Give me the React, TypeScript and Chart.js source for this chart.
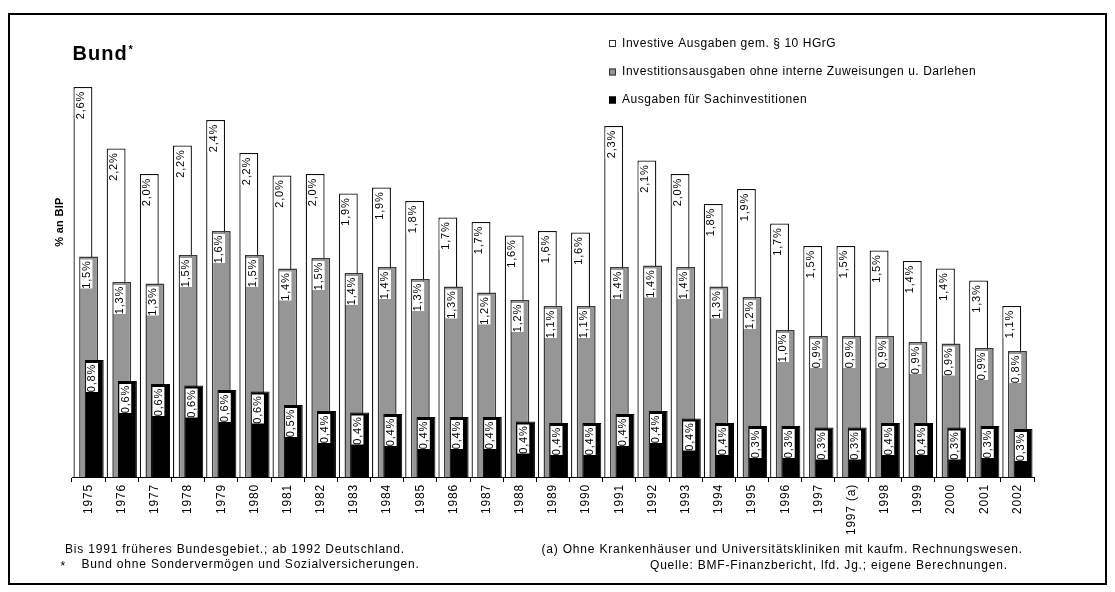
import React, { useEffect, useRef } from 'react';
import { Chart, registerables } from 'chart.js';

Chart.register(...registerables);

const years = ['1975', '1976', '1977', '1978', '1979', '1980', '1981', '1982', '1983', '1984', '1985', '1986', '1987', '1988', '1989', '1990', '1991', '1992', '1993', '1994', '1995', '1996', '1997', '1997 (a)', '1998', '1999', '2000', '2001', '2002'];

const investiveAusgaben = [2.60, 2.19, 2.02, 2.21, 2.38, 2.16, 2.01, 2.02, 1.89, 1.93, 1.84, 1.73, 1.70, 1.61, 1.64, 1.63, 2.34, 2.11, 2.02, 1.82, 1.92, 1.69, 1.54, 1.54, 1.51, 1.44, 1.39, 1.31, 1.14];
const investitionsausgaben = [1.47, 1.30, 1.29, 1.48, 1.64, 1.48, 1.39, 1.46, 1.36, 1.40, 1.32, 1.27, 1.23, 1.18, 1.14, 1.14, 1.40, 1.41, 1.40, 1.27, 1.20, 0.98, 0.94, 0.94, 0.94, 0.90, 0.89, 0.86, 0.84];
const sachinvestitionen = [0.78, 0.64, 0.62, 0.61, 0.58, 0.57, 0.48, 0.44, 0.43, 0.42, 0.40, 0.40, 0.40, 0.37, 0.36, 0.36, 0.42, 0.44, 0.39, 0.36, 0.34, 0.34, 0.33, 0.33, 0.36, 0.36, 0.33, 0.34, 0.32];

const seriesNames = [
  'Investive Ausgaben gem. § 10 HGrG',
  'Investitionsausgaben ohne interne Zuweisungen u. Darlehen',
  'Ausgaben für Sachinvestitionen',
];

const titleText = 'Bund';
const titleStar = '*';
const yAxisTitle = '% an BIP';
const footLeft1 = 'Bis 1991 früheres Bundesgebiet.; ab 1992 Deutschland.';
const footLeft2Star = '*';
const footLeft2 = 'Bund ohne Sondervermögen und Sozialversicherungen.';
const footRight1 = '(a) Ohne Krankenhäuser und Universitätskliniken mit kaufm. Rechnungswesen.';
const footRight2 = 'Quelle: BMF-Finanzbericht, lfd. Jg.; eigene Berechnungen.';

const FONT = "'Liberation Sans', Arial, sans-serif";

function fmt(v: number): string {
  return v.toFixed(1).replace('.', ',') + '%';
}

function drawText(
  ctx: CanvasRenderingContext2D,
  s: string,
  x: number,
  y: number,
  font: string,
  spacing: string,
  align: CanvasTextAlign = 'left',
  baseline: CanvasTextBaseline = 'middle'
) {
  ctx.save();
  ctx.font = font;
  (ctx as any).letterSpacing = spacing;
  ctx.fillStyle = '#000';
  ctx.textAlign = align;
  ctx.textBaseline = baseline;
  ctx.fillText(s, x, y);
  ctx.restore();
}

const orderPlugin = {
  id: 'drawOrder',
  beforeDatasetsDraw(chart: any) {
    const metas = chart.getSortedVisibleDatasetMetas();
    for (const m of metas) m.controller.draw();
    return false;
  },
};

const spacingPlugin = {
  id: 'spacing',
  beforeDraw(chart: any) {
    (chart.ctx as any).letterSpacing = '0.8px';
  },
};

const decorPlugin = {
  id: 'decor',
  afterDraw(chart: any) {
    const ctx: CanvasRenderingContext2D = chart.ctx;
    // value labels
    chart.data.datasets.forEach((ds: any, di: number) => {
      const meta = chart.getDatasetMeta(di);
      meta.data.forEach((el: any, j: number) => {
        const p = el.getProps(['x', 'y', 'width'], true);
        const left = p.x - p.width / 2;
        ctx.save();
        ctx.fillStyle = '#ffffff';
        ctx.fillRect(left + 1.3, p.y + 3, 12, 29);
        ctx.translate(left + 7.6, p.y + 4);
        ctx.rotate(-Math.PI / 2);
        ctx.font = `11px ${FONT}`;
        (ctx as any).letterSpacing = '0.8px';
        ctx.fillStyle = '#000';
        ctx.textAlign = 'right';
        ctx.textBaseline = 'middle';
        ctx.fillText(fmt(ds.data[j]), 0, 0);
        ctx.restore();
      });
    });

    // title
    drawText(ctx, titleText, 72.5, 59.5, `bold 20px ${FONT}`, '1px', 'left', 'alphabetic');
    drawText(ctx, titleStar, 128.5, 44, `bold 11px ${FONT}`, '0px', 'left', 'top');

    // y axis title
    ctx.save();
    ctx.translate(60, 222);
    ctx.rotate(-Math.PI / 2);
    drawText(ctx, yAxisTitle, 0, 0, `bold 11px ${FONT}`, '0.3px', 'center', 'middle');
    ctx.restore();

    // legend
    const legendY = [43.5, 72, 100];
    chart.data.datasets.forEach((ds: any, di: number) => {
      const y = legendY[di];
      ctx.save();
      ctx.fillStyle = ds.backgroundColor;
      ctx.fillRect(609, y - 3.5, 7, 7);
      ctx.strokeStyle = di === 2 ? '#000' : '#333';
      ctx.lineWidth = 1;
      ctx.strokeRect(609.5, y - 3, 6, 6);
      ctx.restore();
      drawText(ctx, ds.label, 622, y, `12px ${FONT}`, '0.55px');
    });

    // footnotes
    drawText(ctx, footLeft1, 65, 550, `12px ${FONT}`, '0.8px');
    drawText(ctx, footLeft2Star, 60.5, 567, `12px ${FONT}`, '0px');
    drawText(ctx, footLeft2, 81.5, 565, `12px ${FONT}`, '0.8px');
    drawText(ctx, footRight1, 541.5, 550, `12px ${FONT}`, '0.8px');
    drawText(ctx, footRight2, 650, 566, `12px ${FONT}`, '0.8px');
  },
};

export default function App() {
  const ref = useRef<HTMLCanvasElement>(null);
  useEffect(() => {
    const canvas = ref.current;
    if (!canvas) return;
    const barOpts = { categoryPercentage: 0.511, barPercentage: 3.35, borderSkipped: 'start' as const };
    const chart = new Chart(canvas, {
      type: 'bar',
      data: {
        labels: years,
        datasets: [
          { label: seriesNames[0], data: investiveAusgaben, backgroundColor: '#ffffff', borderColor: '#111111', borderWidth: 1.3, ...barOpts },
          { label: seriesNames[1], data: investitionsausgaben, backgroundColor: '#969696', borderColor: '#3a3a3a', borderWidth: 1.5, ...barOpts },
          { label: seriesNames[2], data: sachinvestitionen, backgroundColor: '#000000', borderColor: '#000000', borderWidth: 1, ...barOpts },
        ],
      },
      options: {
        responsive: false,
        animation: false,
        events: [],
        layout: { padding: { left: 72, right: 81, top: 27, bottom: 0 } },
        scales: {
          x: {
            grid: { offset: true, drawOnChartArea: false, tickLength: 5, color: '#000', lineWidth: 1 },
            border: { display: true, color: '#000', width: 1 },
            ticks: {
              autoSkip: false,
              minRotation: 90,
              maxRotation: 90,
              padding: 2,
              color: '#000',
              font: { family: FONT, size: 12 },
            },
            afterFit: (s: any) => {
              s.height = 115;
            },
          },
          y: { display: false, min: 0, max: 3 },
        },
        plugins: {
          legend: { display: false },
          tooltip: { enabled: false },
          title: { display: false },
        },
      },
      plugins: [spacingPlugin, orderPlugin, decorPlugin],
    });
    return () => chart.destroy();
  }, []);

  return (
    <div>
      <div
        style={{
          position: 'fixed',
          left: 8,
          top: 13,
          width: 1099,
          height: 572,
          border: '2px solid #000',
          boxSizing: 'border-box',
        }}
      />
      <canvas
        ref={ref}
        width={1115}
        height={592}
        style={{ position: 'fixed', left: 0, top: 0, width: 1115, height: 592 }}
      />
    </div>
  );
}
